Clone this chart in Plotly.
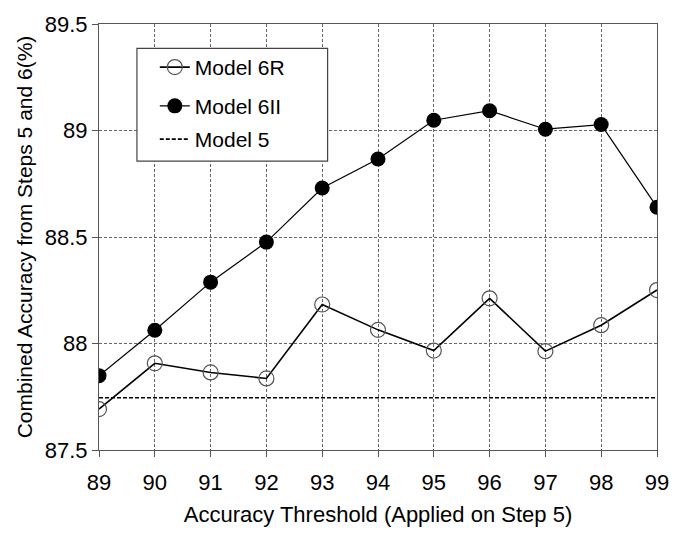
import plotly.graph_objects as go

thresholds = [89, 90, 91, 92, 93, 94, 95, 96, 97, 98, 99]
model_6r = [87.692, 87.907, 87.864, 87.836, 88.183, 88.064, 87.967, 88.212, 87.964, 88.086, 88.251]
model_6ii = [87.849, 88.062, 88.288, 88.476, 88.730, 88.866, 89.048, 89.093, 89.006, 89.028, 88.640]
model_5 = 87.745
y_ticks = [87.5, 88, 88.5, 89, 89.5]
y_ticklabels = ["87.5", "88", "88.5", "89", "89.5"]

FONT = "Arial, 'Liberation Sans', Helvetica, sans-serif"

fig = go.Figure()
fig.add_trace(go.Scatter(
    x=thresholds, y=model_6r, name="Model 6R", mode="lines+markers", legend="legend",
    line=dict(color="black", width=1.6),
    marker=dict(symbol="circle-open", size=15, color="#555555", line=dict(width=1.2, color="#555555")),
))
fig.add_trace(go.Scatter(
    x=thresholds, y=model_6ii, name="Model 6II", mode="lines+markers", legend="legend2",
    line=dict(color="black", width=1.2),
    marker=dict(symbol="circle", size=15, color="black"),
))
fig.add_trace(go.Scatter(
    x=[thresholds[0], thresholds[-1]], y=[model_5, model_5], name="Model 5", mode="lines", legend="legend3",
    line=dict(color="black", width=1.6, dash="4px,2px"),
))

leg_common = dict(
    x=0.10, xanchor="left", yanchor="middle",
    bgcolor="rgba(0,0,0,0)", borderwidth=0,
    font=dict(size=21, family=FONT, color="black"), itemwidth=30,
)

fig.update_layout(
    width=681, height=535,
    margin=dict(l=99, r=14, t=22, b=72),
    paper_bgcolor="white", plot_bgcolor="white",
    font=dict(family=FONT, size=22, color="black"),
    showlegend=True,
    legend=dict(y=0.898, **leg_common),
    legend2=dict(y=0.807, **leg_common),
    legend3=dict(y=0.729, **leg_common),
    shapes=[dict(
        type="rect", xref="paper", yref="paper",
        x0=0.068, x1=0.4097, y0=0.678, y1=0.943,
        fillcolor="white", line=dict(color="#444444", width=1.2), layer="above",
    )],
)
fig.update_xaxes(
    range=[89, 99], tickmode="array", tickvals=thresholds,
    ticktext=[str(t) for t in thresholds],
    showgrid=True, gridcolor="#666666", griddash="3px,2px", gridwidth=1,
    showline=True, linecolor="#555555", linewidth=1.2, mirror=True,
    ticks="outside", ticklen=6, tickcolor="#555555",
    tickfont=dict(size=22), ticklabelstandoff=6,
    title=dict(text="Accuracy Threshold (Applied on Step 5)", font=dict(size=22), standoff=13),
    zeroline=False,
)
fig.update_yaxes(
    range=[87.5, 89.5], tickmode="array", tickvals=y_ticks,
    ticktext=y_ticklabels,
    showgrid=True, gridcolor="#666666", griddash="3px,2px", gridwidth=1,
    showline=True, linecolor="#555555", linewidth=1.2, mirror=True,
    ticks="outside", ticklen=6, tickcolor="#555555",
    tickfont=dict(size=22),
    title=dict(text="Combined Accuracy from Steps 5 and 6(%)", font=dict(size=21), standoff=6),
    zeroline=False,
)

fig.write_html("out.html", config={"displayModeBar": False},
               post_script="document.body.style.margin='0';")
